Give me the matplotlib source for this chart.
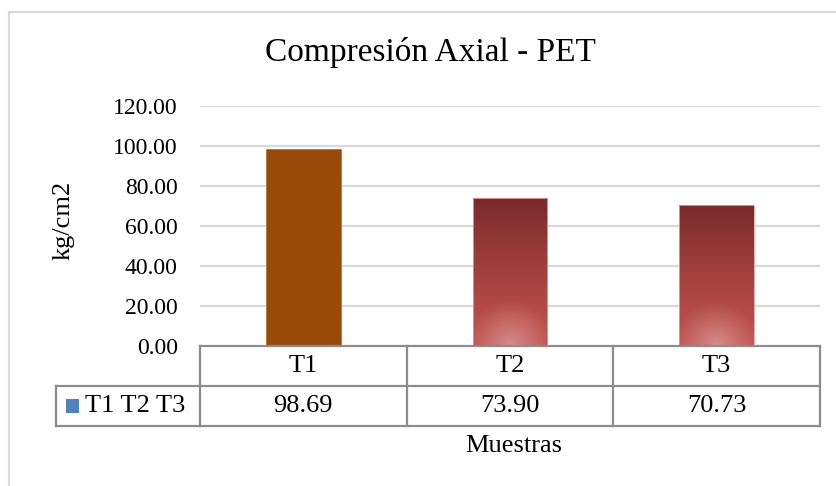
import numpy as np
import matplotlib
matplotlib.use("Agg")
import matplotlib.pyplot as plt
from matplotlib.lines import Line2D
from matplotlib.patches import Rectangle

categories = ["T1", "T2", "T3"]
values = [98.69, 73.90, 70.73]
value_labels = ["98.69", "73.90", "70.73"]
yticks = [0, 20, 40, 60, 80, 100, 120]
series_name = "T1 T2 T3"

plt.rcParams['font.family'] = ['Liberation Serif', 'DejaVu Serif']

W, H = 837, 486
fig = plt.figure(figsize=(W / 100, H / 100), dpi=100)
fig.patch.set_facecolor("white")

# outer chart border (left/top visible)
fig.add_artist(Line2D([9 / W, 9 / W], [0, 1 - 12 / H], transform=fig.transFigure, color="#D9D9D9", lw=1.5))
fig.add_artist(Line2D([9 / W, 1], [1 - 12 / H, 1 - 12 / H], transform=fig.transFigure, color="#D9D9D9", lw=1.5))

L, R, T, B = 200, 820, 106, 346
ax = fig.add_axes([L / W, 1 - B / H, (R - L) / W, (B - T) / H])
ax.set_xlim(-0.5, 2.5)
ax.set_ylim(0, 120)
for s in ax.spines.values():
    s.set_visible(False)
ax.set_yticks(yticks)
ax.set_yticklabels([f"{v:.2f}" for v in yticks], fontsize=17)
ax.tick_params(axis="y", length=0, pad=16)
ax.set_xticks([])
for y in yticks[1:]:
    ax.axhline(y, color="#D9D9D9", lw=1.6, zorder=0)

x = np.arange(len(categories))
bars = ax.bar(x, values, width=0.36, zorder=2)

# colours
bars[0].set_facecolor("#9A4A08")
bars[0].set_edgecolor("#B8702E")
bars[0].set_linewidth(0.6)

def grad_image(n=200, m=60):
    yy = np.linspace(0, 1, n)[:, None]  # 0 bottom .. 1 top (origin lower)
    xx = np.linspace(-1, 1, m)[None, :]
    top = np.array([0x7A, 0x2A, 0x2A]) / 255
    mid = np.array([0xC0, 0x52, 0x4F]) / 255
    light = np.array([0xD6, 0x8C, 0x8A]) / 255
    t = np.clip(yy / 1.0, 0, 1)
    base = mid[None, None, :] * (1 - t[..., None] ** 1.2) + top[None, None, :] * (t[..., None] ** 1.2)
    base = np.broadcast_to(base, (n, m, 3)).copy()
    r = np.sqrt((xx * 0.85) ** 2 + (yy * 3.2) ** 2)
    w = np.clip(1 - r, 0, 1) ** 1.1
    img = base * (1 - w[..., None]) + light[None, None, :] * w[..., None]
    return img

for b in bars[1:]:
    b.set_facecolor("none")
    b.set_edgecolor("#E2A0A0")
    b.set_linewidth(0.6)
    x0, y0 = b.get_x(), b.get_y()
    w, h = b.get_width(), b.get_height()
    im = ax.imshow(grad_image(), extent=[x0, x0 + w, y0, y0 + h], origin="lower",
                   aspect="auto", zorder=1.5, interpolation="bilinear")
    im.set_clip_path(b)
ax.set_xlim(-0.5, 2.5)
ax.set_ylim(0, 120)

# data table
rowh = 40 / (B - T)
leftx = -0.5 - (L - 56) / (R - L) * 3
gc = "#8C8C8C"
tlw = 1.6
tr = ax.get_xaxis_transform()
def hline(xa, xb, y):
    ax.add_line(Line2D([xa, xb], [y, y], transform=tr, color=gc, lw=tlw, clip_on=False, zorder=3))
def vline(xv, ya, yb):
    ax.add_line(Line2D([xv, xv], [ya, yb], transform=tr, color=gc, lw=tlw, clip_on=False, zorder=3))

hline(-0.5, 2.5, 0)
hline(leftx, 2.5, -rowh)
hline(leftx, 2.5, -2 * rowh)
vline(leftx, -rowh, -2 * rowh)
for xv in [-0.5, 0.5, 1.5, 2.5]:
    vline(xv, 0, -2 * rowh)

for i, c in enumerate(categories):
    ax.text(i, -rowh / 2, c, transform=tr, ha="center", va="center", fontsize=19)
    ax.text(i, -1.5 * rowh, value_labels[i], transform=tr, ha="center", va="center", fontsize=19)

# legend key
kx = (66 - L) / (R - L) * 3 - 0.5
ax.add_patch(Rectangle((kx, -1.5 * rowh - 7 / (B - T)), 13 / (R - L) * 3, 14 / (B - T), transform=tr,
                       facecolor="#4F81BD", edgecolor="none", clip_on=False))
ax.text(kx + 19 / (R - L) * 3, -1.5 * rowh, series_name, transform=tr, ha="left", va="center", fontsize=19)

fig.text(514 / W, 1 - 446 / H, "Muestras", ha="center", va="center", fontsize=19)
fig.text(64 / W, 1 - 220 / H, "kg/cm2", ha="center", va="center", rotation=90, fontsize=19)
fig.text(430 / W, 1 - 52 / H, "Compresión Axial - PET", ha="center", va="center", fontsize=24)

fig.savefig("out.png", dpi=100, facecolor="white")
